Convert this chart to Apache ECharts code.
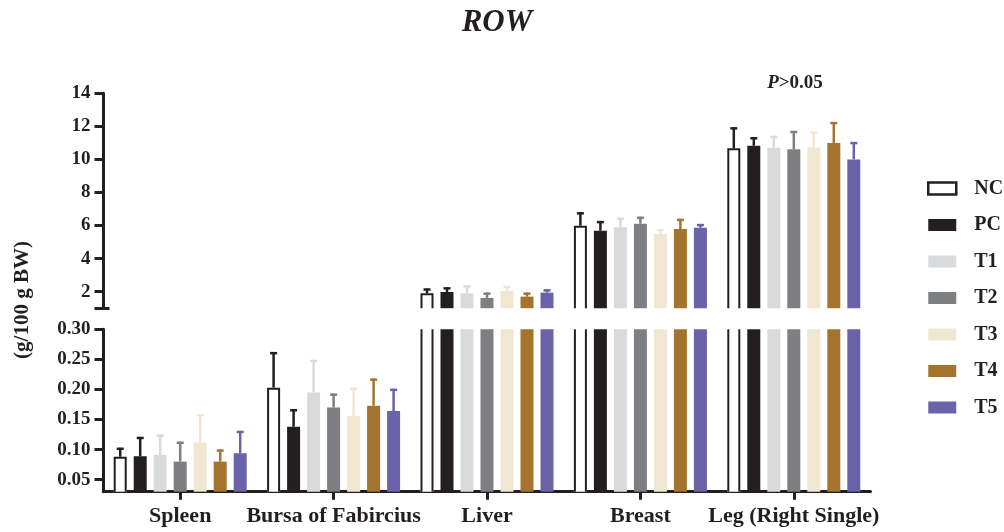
<!DOCTYPE html>
<html>
<head>
<meta charset="utf-8">
<script src="https://cdn.jsdelivr.net/npm/echarts@6/dist/echarts.min.js"></script>
<style>html,body{margin:0;padding:0;background:#fff}#chart{width:1004px;height:532px}</style>
</head>
<body>
<div id="chart"></div>
<script>
// ---- data ----
const categories = ['Spleen', 'Bursa of Fabircius', 'Liver', 'Breast', 'Leg (Right Single)'];
const groups = ['NC', 'PC', 'T1', 'T2', 'T3', 'T4', 'T5'];
const ncMean = [0.088, 0.203, 1.90, 5.99, 10.67];
const pcMean = [0.089, 0.138, 1.98, 5.69, 10.83];
const t1Mean = [0.091, 0.195, 1.90, 5.89, 10.71];
const t2Mean = [0.080, 0.170, 1.62, 6.11, 10.61];
const t3Mean = [0.112, 0.156, 2.04, 5.49, 10.73];
const t4Mean = [0.080, 0.173, 1.70, 5.79, 10.99];
const t5Mean = [0.094, 0.164, 1.94, 5.87, 10.00];
const ncErr = [0.015, 0.059, 0.29, 0.81, 1.27];
const pcErr = [0.032, 0.029, 0.28, 0.58, 0.51];
const t1Err = [0.034, 0.054, 0.48, 0.58, 0.71];
const t2Err = [0.033, 0.023, 0.32, 0.42, 1.11];
const t3Err = [0.047, 0.047, 0.30, 0.30, 0.95];
const t4Err = [0.020, 0.045, 0.24, 0.61, 1.27];
const t5Err = [0.037, 0.037, 0.20, 0.22, 1.05];
const lowerTicks = [0.05, 0.10, 0.15, 0.20, 0.25, 0.30];
const upperTicks = [2, 4, 6, 8, 10, 12, 14];
const LOWER_MIN = 0.03, LOWER_MAX = 0.30;
const UPPER_MIN = 1, UPPER_MAX = 14;

const means = [ncMean, pcMean, t1Mean, t2Mean, t3Mean, t4Mean, t5Mean];
const errs = [ncErr, pcErr, t1Err, t2Err, t3Err, t4Err, t5Err];
const colors = ['#ffffff', '#231f20', '#d9dadb', '#7e7f82', '#efe7d1', '#a4742f', '#6a63a9'];
const errColors = ['#231f20', '#231f20', '#d9dadb', '#7e7f82', '#efe7d1', '#a4742f', '#6a63a9'];
const INK = '#231f20';
const FONT = 'Liberation Serif';

const BAR_W = 13, BAR_GAP = 7, N = groups.length;
const TOTAL = N * BAR_W + (N - 1) * BAR_GAP;
const leftOff = i => -TOTAL / 2 + i * (BAR_W + BAR_GAP);

const chart = echarts.init(document.getElementById('chart'), null, {renderer: 'canvas'});

function outlineRender(min, max, isUpper) {
  return function (params, api) {
    const ci = api.value(0), v = api.value(1);
    if (v < min) return null;
    const base = api.coord([ci, min]);
    const top = api.coord([ci, Math.min(v, max)]);
    const x0 = base[0] + leftOff(0) + 1, x1 = x0 + BAR_W - 2;
    const clipped = v > max;
    const yb = base[1], yt = clipped ? top[1] : top[1] + 1;
    const st = {stroke: INK, lineWidth: 2, fill: null};
    if (clipped) {
      return {type: 'group', children: [
        {type: 'line', shape: {x1: x0, y1: yb, x2: x0, y2: yt}, style: st},
        {type: 'line', shape: {x1: x1, y1: yb, x2: x1, y2: yt}, style: st}
      ]};
    }
    return {type: 'polyline', shape: {points: [[x0, yb], [x0, yt], [x1, yt], [x1, yb]]}, style: st};
  };
}

function errRender(min, max) {
  return function (params, api) {
    const ci = api.value(0), gi = api.value(1), m = api.value(2), e = api.value(3);
    if (m < min || m + e > max) return null;
    const p0 = api.coord([ci, m]);
    const p1 = api.coord([ci, m + e]);
    const cx = p0[0] + leftOff(gi) + BAR_W / 2;
    const st = {stroke: errColors[gi], lineWidth: 2.5};
    return {type: 'group', children: [
      {type: 'line', shape: {x1: cx, y1: p0[1], x2: cx, y2: p1[1]}, style: st},
      {type: 'line', shape: {x1: cx - 3.5, y1: p1[1] + 1, x2: cx + 3.5, y2: p1[1] + 1}, style: st}
    ]};
  };
}

const errData = [];
for (let gi = 0; gi < N; gi++) for (let ci = 0; ci < categories.length; ci++) errData.push([ci, gi, means[gi][ci], errs[gi][ci]]);

const series = [];
groups.forEach((g, gi) => {
  series.push({
    name: g, type: 'bar', xAxisIndex: 0, yAxisIndex: 0, data: means[gi],
    barWidth: BAR_W, barGap: (BAR_GAP / BAR_W * 100).toFixed(2) + '%',
    itemStyle: {color: colors[gi]}, z: 2
  });
  series.push({
    name: g, type: 'bar', xAxisIndex: 1, yAxisIndex: 1,
    data: means[gi].map(v => v >= UPPER_MIN ? v : '-'),
    barWidth: BAR_W, barGap: (BAR_GAP / BAR_W * 100).toFixed(2) + '%',
    itemStyle: {color: colors[gi]}, z: 2
  });
});
series.push({name: 'NC outline lower', type: 'custom', xAxisIndex: 0, yAxisIndex: 0, z: 4,
  data: ncMean.map((v, i) => [i, v]), encode: {x: 0, y: 1}, renderItem: outlineRender(LOWER_MIN, LOWER_MAX, false)});
series.push({name: 'NC outline upper', type: 'custom', xAxisIndex: 1, yAxisIndex: 1, z: 4,
  data: ncMean.map((v, i) => [i, v]), encode: {x: 0, y: 1}, renderItem: outlineRender(UPPER_MIN, UPPER_MAX, true)});
series.push({name: 'err lower', type: 'custom', xAxisIndex: 0, yAxisIndex: 0, z: 5,
  data: errData, encode: {x: 0, y: 2}, renderItem: errRender(LOWER_MIN, LOWER_MAX)});
series.push({name: 'err upper', type: 'custom', xAxisIndex: 1, yAxisIndex: 1, z: 5,
  data: errData, encode: {x: 0, y: 2}, renderItem: errRender(UPPER_MIN, UPPER_MAX)});

const axisLine = {show: true, lineStyle: {color: INK, width: 3}};
const labelStyle = {color: INK, fontFamily: FONT, fontWeight: 'bold', fontSize: 19};

const option = {
  animation: false,
  backgroundColor: '#fff',
  grid: [
    {left: 103.5, width: 767, top: 329.3, bottom: 40.3, outerBoundsMode: 'none', containLabel: false},
    {left: 103.5, width: 767, top: 93.3, bottom: 223.8, outerBoundsMode: 'none', containLabel: false}
  ],
  xAxis: [
    {type: 'category', gridIndex: 0, data: categories,
      axisLine: axisLine,
      axisTick: {show: true, alignWithLabel: true, length: 8, lineStyle: {color: INK, width: 3}},
      axisLabel: {color: INK, fontFamily: FONT, fontWeight: 'bold', fontSize: 22, margin: 14, interval: 0},
      splitLine: {show: false}},
    {type: 'category', gridIndex: 1, data: categories, show: false}
  ],
  yAxis: [
    {type: 'value', gridIndex: 0, position: 'left', min: LOWER_MIN, max: LOWER_MAX,
      axisLine: axisLine,
      axisTick: {show: true, customValues: lowerTicks, length: 9, lineStyle: {color: INK, width: 3}},
      axisLabel: Object.assign({customValues: lowerTicks, margin: 13, formatter: v => Number(v).toFixed(2)}, labelStyle),
      splitLine: {show: false}},
    {type: 'value', gridIndex: 1, position: 'left', min: UPPER_MIN, max: UPPER_MAX,
      axisLine: axisLine,
      axisTick: {show: true, customValues: [UPPER_MIN].concat(upperTicks), length: 9, lineStyle: {color: INK, width: 3}},
      axisLabel: Object.assign({customValues: upperTicks, margin: 13, formatter: v => String(v)}, labelStyle),
      splitLine: {show: false}},
    {type: 'value', gridIndex: 1, position: 'left', min: UPPER_MIN, max: UPPER_MAX,
      axisLine: {show: false},
      axisTick: {show: true, inside: true, customValues: [UPPER_MIN], length: 6, lineStyle: {color: INK, width: 3}},
      axisLabel: {show: false}, splitLine: {show: false}}
  ],
  legend: {
    orient: 'vertical', left: 927, top: 178.5, padding: 0,
    icon: 'rect', itemWidth: 28, itemHeight: 12, itemGap: 16.5,
    textStyle: {color: INK, fontFamily: FONT, fontWeight: 'bold', fontSize: 20, lineHeight: 20, padding: [0, 0, 0, 13]},
    data: groups.map(g => g === 'NC' ? {name: g, itemStyle: {color: '#fff', borderColor: INK, borderWidth: 2.5}} : g)
  },
  graphic: [
    {type: 'text', x: 497, y: 23, style: {text: 'ROW', fill: INK, font: 'italic bold 31px "Liberation Serif"', align: 'center', verticalAlign: 'middle'}},
    {type: 'text', x: 795, y: 83, style: {
      text: '{i|P}{b|>0.05}', align: 'center', verticalAlign: 'middle',
      rich: {i: {fill: INK, fontFamily: FONT, fontStyle: 'italic', fontWeight: 'bold', fontSize: 19},
             b: {fill: INK, fontFamily: FONT, fontWeight: 'bold', fontSize: 19}}}},
    {type: 'text', x: 22.5, y: 300, rotation: Math.PI / 2, style: {text: '(g/100 g BW)', fill: INK, font: 'bold 21px "Liberation Serif"', align: 'center', verticalAlign: 'middle'}}
  ],
  series: series
};
chart.setOption(option);
</script>
</body>
</html>
